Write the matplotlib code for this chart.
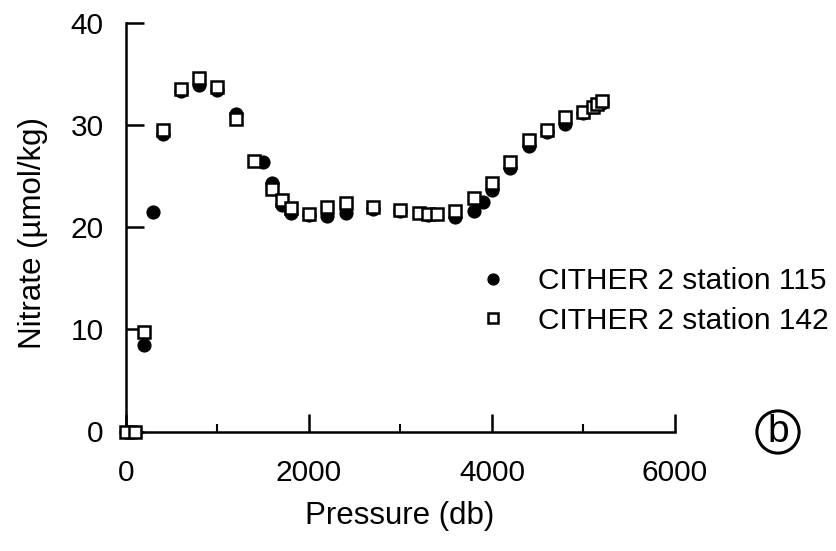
import matplotlib
matplotlib.use("Agg")
import matplotlib.pyplot as plt

# Station 115 (filled circles)
pressure_115 = [0, 100, 200, 300, 400, 600, 800, 1000, 1200, 1500, 1600, 1700, 1800,
                2000, 2200, 2400, 2700, 3000, 3300, 3600, 3800, 3900, 4000, 4200,
                4400, 4600, 4800, 5000, 5200]
nitrate_115 = [0, 0, 8.5, 21.5, 29.1, 33.3, 33.9, 33.4, 31.1, 26.4, 24.3, 22.2, 21.4,
               21.2, 21.1, 21.4, 21.8, 21.6, 21.2, 21.0, 21.6, 22.5, 23.6, 25.8,
               27.9, 29.3, 30.1, 31.2, 32.1]

# Station 142 (open squares)
pressure_142 = [0, 100, 200, 400, 600, 800, 1000, 1200, 1400, 1600, 1700, 1800, 2000,
                2200, 2400, 2700, 3000, 3200, 3300, 3400, 3600, 3800, 4000, 4200,
                4400, 4600, 4800, 5000, 5100, 5150, 5200]
nitrate_142 = [0, 0, 9.7, 29.5, 33.5, 34.6, 33.7, 30.6, 26.5, 23.7, 22.7, 21.9, 21.3,
               22.0, 22.4, 22.0, 21.7, 21.4, 21.3, 21.3, 21.6, 22.8, 24.3, 26.4,
               28.5, 29.5, 30.8, 31.3, 31.8, 32.0, 32.3]

labels = ["CITHER 2 station 115", "CITHER 2 station 142"]
x_ticks = [0, 2000, 4000, 6000]
x_minor = [1000, 3000, 5000]
y_ticks = [0, 10, 20, 30, 40]

plt.rcParams['font.family'] = ['Liberation Sans', 'DejaVu Sans']
FS = 21.5

W, H = 837, 551
fig = plt.figure(figsize=(W / 100, H / 100), dpi=100)
ax = fig.add_axes([126 / W, 1 - 431.5 / H, (675 - 126) / W, (431.5 - 22.7) / H])

ax.plot(pressure_115, nitrate_115, linestyle='none', marker='o', markersize=9.2,
        markerfacecolor='black', markeredgecolor='black', label=labels[0], zorder=3,
        clip_on=False)
ax.plot(pressure_142, nitrate_142, linestyle='none', marker='s', markersize=8.6,
        markerfacecolor='white', markeredgecolor='black', markeredgewidth=1.8,
        label=labels[1], zorder=4, clip_on=False)

ax.set_xlim(0, 6000)
ax.set_ylim(0, 40)
ax.spines['top'].set_visible(False)
ax.spines['right'].set_visible(False)
ax.spines['left'].set_linewidth(1.8)
ax.spines['bottom'].set_linewidth(1.8)

ax.set_xticks(x_ticks)
ax.set_xticks(x_minor, minor=True)
ax.set_yticks(y_ticks)
ax.tick_params(axis='both', which='major', direction='in', length=13, width=1.8,
               labelsize=FS)
ax.tick_params(axis='x', which='major', pad=20)
ax.tick_params(axis='y', which='major', pad=16)
ax.tick_params(axis='x', which='minor', direction='in', length=6, width=1.5)

fig.text(33 / W, 1 - 233 / H, "Nitrate (µmol/kg)", rotation=90, fontsize=22.5,
         ha='center', va='center')
fig.text(400 / W, 1 - 516 / H, "Pressure (db)", fontsize=22.5, ha='center',
         va='center')

leg = ax.legend(loc='upper left', bbox_to_anchor=(478 / W, 1 - 267 / H),
                bbox_transform=fig.transFigure, frameon=False, fontsize=FS,
                handlelength=1.0, handletextpad=1.0, borderpad=0, borderaxespad=0,
                labelspacing=0.4, markerscale=0.85)

fig.text(778 / W, 1 - 432 / H, "b", fontsize=28, ha='center', va='center',
         bbox=dict(boxstyle='circle,pad=0.08', fc='none', ec='black', lw=2.2))

fig.savefig("out.png", dpi=100)
